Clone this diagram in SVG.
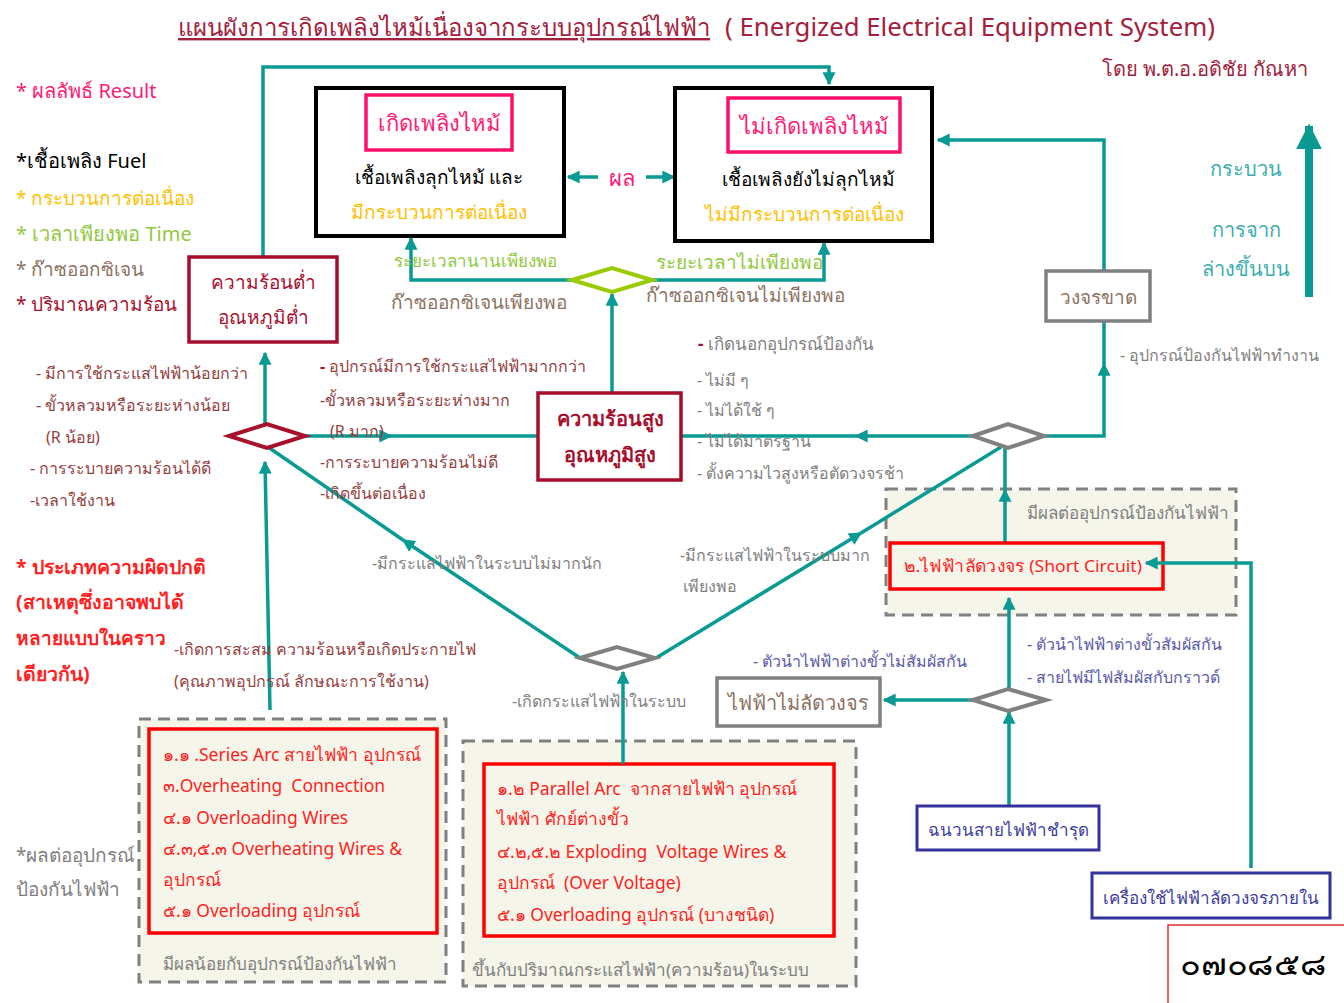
<svg xmlns="http://www.w3.org/2000/svg" width="1344" height="1003" viewBox="0 0 1344 1003">
<defs>
<style>
text{font-family:"Noto Sans","DejaVu Sans",sans-serif;white-space:pre}
.t16{font-size:16px}
.t17{font-size:17px}
.t19{font-size:19px}
.t20{font-size:20px}
.t22{font-size:22px}
.mid{text-anchor:middle}
.crim{fill:#a3213c}
.pink{fill:#ff1a75}
.blk{fill:#000}
.yel{fill:#ffc000}
.lime{fill:#92c83e}
.brn{fill:#8c7262}
.dred{fill:#a50f2d}
.mar{fill:#94403f}
.gry{fill:#7f7f7f}
.red{fill:#ff1f1f}
.navy{fill:#3c3c9c}
.purp{fill:#5a5aa8}
.teal{fill:#3aaeae}
.item{font-size:17.5px;fill:#ff1f1f}
.conn{fill:none;stroke:#0a9a94;stroke-width:3.5}
.dash{fill:#f6f5e9;stroke:#808080;stroke-width:3;stroke-dasharray:12 7}
</style>
<marker id="ah" viewBox="0 0 10 10" refX="9" refY="5" markerWidth="13" markerHeight="13" markerUnits="userSpaceOnUse" orient="auto">
<path d="M0,0 L10,5 L0,10 z" fill="#0a9a94"/>
</marker>
<marker id="big" viewBox="0 0 10 10" refX="9" refY="5" markerWidth="26" markerHeight="26" markerUnits="userSpaceOnUse" orient="auto">
<path d="M0,0 L10,5 L0,10 z" fill="#0a9a94"/>
</marker>
</defs>
<rect width="1344" height="1003" fill="#fff"/>

<!-- heading -->
<g id="title">
<text x="178" y="36" class="crim" style="font-size:24px;text-decoration:underline">แผนผังการเกิดเพลิงไหม้เนื่องจากระบบอุปกรณ์ไฟฟ้า</text>
<text x="725" y="36" class="crim" style="font-size:25px" textLength="490" lengthAdjust="spacingAndGlyphs">( Energized Electrical Equipment System)</text>
<text x="1308" y="76" class="crim t20" text-anchor="end">โดย พ.ต.อ.อดิชัย กัณหา</text>
</g>

<!-- legend -->
<g id="legend">
<text x="16" y="98" class="pink t20">* ผลลัพธ์ Result</text>
<text x="16" y="168" class="blk t20">*เชื้อเพลิง Fuel</text>
<text x="16" y="205" class="yel t19">* กระบวนการต่อเนื่อง</text>
<text x="16" y="241" class="lime t20">* เวลาเพียงพอ Time</text>
<text x="16" y="276" class="brn t19">* ก๊าซออกซิเจน</text>
<text x="16" y="311" class="dred t19">* ปริมาณความร้อน</text>
</g>

<g id="fault-types">
<text x="16" y="574" class="red" style="font-size:19.5px" font-weight="bold">* ประเภทความผิดปกติ</text>
<text x="16" y="609" class="red" style="font-size:19.5px" font-weight="bold">(สาเหตุซึ่งอาจพบได้</text>
<text x="16" y="645" class="red" style="font-size:19px" font-weight="bold">หลายแบบในคราว</text>
<text x="16" y="681" class="red" style="font-size:19.5px" font-weight="bold">เดียวกัน)</text>
</g>

<g id="protection-note">
<text x="16" y="862" class="gry t19">*ผลต่ออุปกรณ์</text>
<text x="16" y="896" class="gry t19">ป้องกันไฟฟ้า</text>
</g>

<g id="flow-direction">
<text x="1246" y="176" class="teal t20 mid">กระบวน</text>
<text x="1246" y="237" class="teal t20 mid">การจาก</text>
<text x="1246" y="276" class="teal t20 mid">ล่างขึ้นบน</text>
</g>

<!-- shaded zones sit under the connectors -->
<g id="short-circuit-zone">
<rect x="886" y="489" width="350" height="126" class="dash"/>
<text x="1027" y="519" class="gry t17">มีผลต่ออุปกรณ์ป้องกันไฟฟ้า</text>
</g>

<g id="series-faults">
<rect x="139" y="719" width="307" height="263" class="dash"/>
<rect x="149" y="729" width="288" height="204" fill="#f6f5e9" stroke="#ff0000" stroke-width="3.5"/>
<text x="163" y="761" class="item">๑.๑ .Series Arc สายไฟฟ้า อุปกรณ์</text>
<text x="163" y="792" class="item">๓.Overheating  Connection</text>
<text x="163" y="824" class="item">๔.๑ Overloading Wires</text>
<text x="163" y="855" class="item">๔.๓,๕.๓ Overheating Wires &amp;</text>
<text x="163" y="886" class="item">อุปกรณ์</text>
<text x="163" y="917" class="item">๕.๑ Overloading อุปกรณ์</text>
<text x="163" y="970" class="gry t17">มีผลน้อยกับอุปกรณ์ป้องกันไฟฟ้า</text>
</g>
<g id="parallel-faults">
<rect x="463" y="741" width="393" height="245" class="dash"/>
<rect x="484" y="764" width="350" height="172" fill="#f6f5e9" stroke="#ff0000" stroke-width="3.5"/>
<text x="497" y="795" class="item">๑.๒ Parallel Arc  จากสายไฟฟ้า อุปกรณ์</text>
<text x="497" y="825" class="item">ไฟฟ้า ศักย์ต่างขั้ว</text>
<text x="497" y="858" class="item">๔.๒,๕.๒ Exploding  Voltage Wires &amp;</text>
<text x="497" y="889" class="item">อุปกรณ์  (Over Voltage)</text>
<text x="497" y="921" class="item">๕.๑ Overloading อุปกรณ์ (บางชนิด)</text>
<text x="472" y="976" class="gry t17">ขึ้นกับปริมาณกระแสไฟฟ้า(ความร้อน)ในระบบ</text>
</g>

<!-- connectors -->
<g id="connectors">
<path class="conn" d="M263,257 V67 H829 V84" marker-end="url(#ah)"/>
<path class="conn" d="M598,177 H568" marker-end="url(#ah)"/>
<path class="conn" d="M646,177 H674" marker-end="url(#ah)"/>
<path class="conn" d="M572,280 H411 V238" marker-end="url(#ah)"/>
<path class="conn" d="M652,280 H824 V243" marker-end="url(#ah)"/>
<path class="conn" d="M612,393 V294" marker-end="url(#ah)"/>
<path class="conn" d="M305,436 H391" marker-end="url(#ah)"/>
<path class="conn" d="M391,436 H538"/>
<path class="conn" d="M265,424 V353" marker-end="url(#ah)"/>
<path class="conn" d="M270,710 L265,462" marker-end="url(#ah)"/>
<path class="conn" d="M580,658 L403,540" marker-end="url(#ah)"/>
<path class="conn" d="M403,540 L268,447"/>
<path class="conn" d="M656,658 L861,533" marker-end="url(#ah)"/>
<path class="conn" d="M861,533 L1001,447"/>
<path class="conn" d="M623,764 V672" marker-end="url(#ah)"/>
<path class="conn" d="M1005,543 V490" marker-end="url(#ah)"/>
<path class="conn" d="M1005,490 V448"/>
<path class="conn" d="M973,436 H856" marker-end="url(#ah)"/>
<path class="conn" d="M856,436 H682"/>
<path class="conn" d="M1044,436 H1104 V364" marker-end="url(#ah)"/>
<path class="conn" d="M1104,364 V321"/>
<path class="conn" d="M1104,271 V140 H938" marker-end="url(#ah)"/>
<path class="conn" d="M1009,689 V598" marker-end="url(#ah)"/>
<path class="conn" d="M973,700 H884" marker-end="url(#ah)"/>
<path class="conn" d="M1009,806 V712" marker-end="url(#ah)"/>
<path d="M1309,297 V126" fill="none" stroke="#0a9a94" stroke-width="8" marker-end="url(#big)"/>
</g>

<!-- results -->
<g id="fire">
<rect x="316" y="88" width="248" height="148" fill="#fff" stroke="#000" stroke-width="4"/>
<rect x="366" y="95" width="146" height="55" fill="#fff" stroke="#ff0f6b" stroke-width="3.5"/>
<text x="439" y="131" class="pink t22 mid">เกิดเพลิงไหม้</text>
<text x="439" y="184" class="blk t19 mid">เชื้อเพลิงลุกไหม้ และ</text>
<text x="439" y="219" class="yel t19 mid">มีกระบวนการต่อเนื่อง</text>
</g>
<text x="622" y="186" class="pink t22 mid">ผล</text>
<g id="no-fire">
<rect x="675" y="88" width="257" height="153" fill="#fff" stroke="#000" stroke-width="4"/>
<rect x="728" y="98" width="172" height="54" fill="#fff" stroke="#ff0f6b" stroke-width="3.5"/>
<text x="814" y="134" class="pink t22 mid">ไม่เกิดเพลิงไหม้</text>
<text x="808" y="186" class="blk t19 mid">เชื้อเพลิงยังไม่ลุกไหม้</text>
<text x="804" y="221" class="yel t19 mid">ไม่มีกระบวนการต่อเนื่อง</text>
</g>

<!-- oxygen / time decision -->
<g id="oxygen-decision">
<polygon points="572,280 612,268 652,280 612,292" fill="#fff" stroke="#99cc00" stroke-width="4"/>
</g>
<g id="oxygen-labels">
<text x="394" y="267" class="lime t17">ระยะเวลานานเพียงพอ</text>
<text x="656" y="269" class="lime t19">ระยะเวลาไม่เพียงพอ</text>
<text x="391" y="309" class="brn t19">ก๊าซออกซิเจนเพียงพอ</text>
<text x="646" y="302" class="brn t19">ก๊าซออกซิเจนไม่เพียงพอ</text>
</g>

<!-- heat nodes -->
<g id="low-heat">
<rect x="189" y="257" width="148" height="85" fill="#fff" stroke="#a50f2d" stroke-width="3.5"/>
<text x="263" y="289" class="dred t19 mid">ความร้อนต่ำ</text>
<text x="263" y="324" class="dred t19 mid">อุณหภูมิต่ำ</text>
</g>
<g id="high-heat">
<rect x="538" y="393" width="143" height="87" fill="#fff" stroke="#a50f2d" stroke-width="3.5"/>
<text x="610" y="426" class="dred t20 mid" font-weight="bold">ความร้อนสูง</text>
<text x="610" y="462" class="dred t20 mid" font-weight="bold">อุณหภูมิสูง</text>
</g>
<g id="heat-decision">
<polygon points="229,436 267,424 305,436 267,448" fill="#fff" stroke="#a8102c" stroke-width="4"/>
</g>

<g id="low-heat-labels">
<text x="36" y="379" class="mar t16">- มีการใช้กระแสไฟฟ้าน้อยกว่า</text>
<text x="36" y="411" class="mar t16">- ขั้วหลวมหรือระยะห่างน้อย</text>
<text x="46" y="443" class="mar t16">(R น้อย)</text>
<text x="30" y="474" class="mar t16">- การระบายความร้อนได้ดี</text>
<text x="30" y="506" class="mar t16">-เวลาใช้งาน</text>
</g>
<g id="high-heat-labels">
<text x="320" y="372" class="mar t16"><tspan fill="#a50f2d" font-weight="bold">-</tspan> อุปกรณ์มีการใช้กระแสไฟฟ้ามากกว่า</text>
<text x="320" y="406" class="mar t16">-ขั้วหลวมหรือระยะห่างมาก</text>
<text x="330" y="437" class="mar t16">(R มาก)</text>
<text x="320" y="468" class="mar t16">-การระบายความร้อนไม่ดี</text>
<text x="320" y="499" class="mar t16">-เกิดขึ้นต่อเนื่อง</text>
</g>
<g id="outside-protection-labels">
<text x="698" y="350" class="gry t17"><tspan fill="#a50f2d" font-weight="bold">-</tspan> เกิดนอกอุปกรณ์ป้องกัน</text>
<text x="697" y="386" class="gry t16">- ไม่มี ๆ</text>
<text x="697" y="416" class="gry t16">- ไม่ได้ใช้ ๆ</text>
<text x="697" y="447" class="gry t16">- ไม่ได้มาตรฐาน</text>
<text x="697" y="479" class="gry t16">- ตั้งความไวสูงหรือตัดวงจรช้า</text>
</g>

<!-- protection branch -->
<g id="open-circuit">
<rect x="1046" y="271" width="104" height="50" fill="#fff" stroke="#808080" stroke-width="3.5"/>
<text x="1098" y="304" class="brn t19 mid">วงจรขาด</text>
</g>
<text x="1120" y="361" class="gry t16">- อุปกรณ์ป้องกันไฟฟ้าทำงาน</text>
<g id="protection-decision">
<polygon points="973,436 1008,424 1044,436 1008,448" fill="#fff" stroke="#808080" stroke-width="4"/>
</g>

<g id="short-circuit">
<rect x="890" y="543" width="273" height="46" fill="#f6f5e9" stroke="#ff0000" stroke-width="3.5"/>
<text x="904" y="572" class="red t17" textLength="238" lengthAdjust="spacingAndGlyphs">๒.ไฟฟ้าลัดวงจร (Short Circuit)</text>
</g>
<path class="conn" d="M1251,868 V563 H1146" marker-end="url(#ah)"/>

<g id="current-decision">
<polygon points="580,658 617,647 655,658 617,669" fill="#fff" stroke="#808080" stroke-width="4"/>
</g>
<g id="current-labels">
<text x="372" y="569" class="gry t16">-มีกระแสไฟฟ้าในระบบไม่มากนัก</text>
<text x="680" y="561" class="gry t16">-มีกระแสไฟฟ้าในระบบมาก</text>
<text x="683" y="592" class="gry t16">เพียงพอ</text>
<text x="174" y="655" class="mar t16">-เกิดการสะสม ความร้อนหรือเกิดประกายไฟ</text>
<text x="174" y="687" class="mar t16">(คุณภาพอุปกรณ์ ลักษณะการใช้งาน)</text>
<text x="512" y="707" class="gry t16">-เกิดกระแสไฟฟ้าในระบบ</text>
</g>

<g id="contact-decision">
<polygon points="973,700 1008,689 1046,700 1008,711" fill="#fff" stroke="#808080" stroke-width="4"/>
</g>
<g id="contact-labels">
<text x="753" y="667" class="purp t16">- ตัวนำไฟฟ้าต่างขั้วไม่สัมผัสกัน</text>
<text x="1027" y="650" class="purp t16">- ตัวนำไฟฟ้าต่างขั้วสัมผัสกัน</text>
<text x="1027" y="683" class="purp t16">- สายไฟมีไฟสัมผัสกับกราวด์</text>
</g>
<g id="no-short-circuit">
<rect x="717" y="678" width="163" height="48" fill="#fff" stroke="#808080" stroke-width="3.5"/>
<text x="798" y="710" class="brn t20 mid">ไฟฟ้าไม่ลัดวงจร</text>
</g>
<g id="damaged-insulation">
<rect x="917" y="806" width="182" height="44" fill="#fff" stroke="#3333a0" stroke-width="3"/>
<text x="1008" y="836" class="navy t17 mid">ฉนวนสายไฟฟ้าชำรุด</text>
</g>
<g id="internal-short">
<rect x="1092" y="873" width="238" height="45" fill="#fff" stroke="#3333a0" stroke-width="3"/>
<text x="1211" y="904" class="navy t17 mid">เครื่องใช้ไฟฟ้าลัดวงจรภายใน</text>
</g>

<g id="page-number">
<rect x="1168" y="925" width="180" height="82" fill="#fff" stroke="#e03030" stroke-width="1.5"/>
<text x="1180" y="975" class="blk" style="font-size:30px" textLength="146" lengthAdjust="spacingAndGlyphs">๐๗๐๘๕๘</text>
</g>
</svg>
